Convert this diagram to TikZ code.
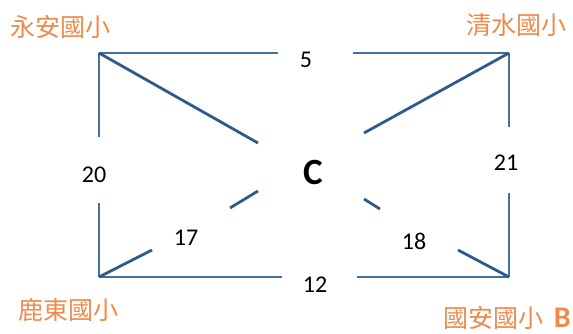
\documentclass[tikz,border=0pt]{standalone}
\usepackage{fontspec}
\setmainfont{Carlito}
\newfontfamily\cjk{Noto Sans CJK TC}
\definecolor{edgecol}{HTML}{41719C}
\definecolor{diagcol}{HTML}{2B5C8C}
\definecolor{labcol}{HTML}{F08A4B}
\begin{document}
\begin{tikzpicture}[x=1pt,y=-1pt,
  edge/.style={draw=edgecol,line width=2.6pt},
  diag/.style={draw=diagcol,line width=2.8pt},
  num/.style={inner sep=0pt,font=\fontsize{24}{27}\selectfont},
  school/.style={inner sep=0pt,text=labcol,font=\fontsize{25}{28}\selectfont\cjk},
  center/.style={inner sep=0pt,font=\fontsize{37}{40}\selectfont\bfseries}]
\useasboundingbox (0,0) rectangle (573,334);
% corners
\coordinate (ya) at (99,53);
\coordinate (qs) at (509,53);
\coordinate (ld) at (99,277);
\coordinate (ga) at (509,277);
% gap ends
\coordinate (t1) at (278,53);  \coordinate (t2) at (353,53);
\coordinate (l1) at (99,137);  \coordinate (l2) at (99,203);
\coordinate (r1) at (509,127); \coordinate (r2) at (509,193);
\coordinate (b1) at (282,277); \coordinate (b2) at (357,277);
\coordinate (d1) at (258,143);
\coordinate (d2) at (364,133);
\coordinate (d3) at (152,250); \coordinate (d4) at (230,208); \coordinate (d5) at (258,191);
\coordinate (d6) at (458,250); \coordinate (d7) at (380,209); \coordinate (d8) at (364,199);
% labels
\node[center] (c) at (313,172) {C};
\node[num] (n5) at (306,60) {5};
\node[num] (n20) at (94,175) {20};
\node[num] (n21) at (506,163) {21};
\node[num] (n17) at (186,238) {17};
\node[num] (n18) at (414,241) {18};
\node[num] (n12) at (315,285) {12};
\node[school] (s1) at (60,27) {永安國小};
\node[school] (s2) at (516,25) {清水國小};
\node[school] (s3) at (68,310) {鹿東國小};
\node[school,anchor=east] (s4) at (571,318) {國安國小\hspace{0.4em}{\rmfamily\bfseries\fontsize{30}{32}\selectfont B}};
% edges
\draw[edge] (ya) -- (t1);
\draw[edge] (t2) -- (qs);
\draw[edge] (ya) -- (l1);
\draw[edge] (l2) -- (ld);
\draw[edge] (qs) -- (r1);
\draw[edge] (r2) -- (ga);
\draw[edge] (ld) -- (b1);
\draw[edge] (b2) -- (ga);
% diagonals
\draw[diag] (ya) -- (d1);
\draw[diag] (qs) -- (d2);
\draw[diag] (ld) -- (d3);
\draw[diag] (d4) -- (d5);
\draw[diag] (ga) -- (d6);
\draw[diag] (d7) -- (d8);
\end{tikzpicture}
\end{document}
